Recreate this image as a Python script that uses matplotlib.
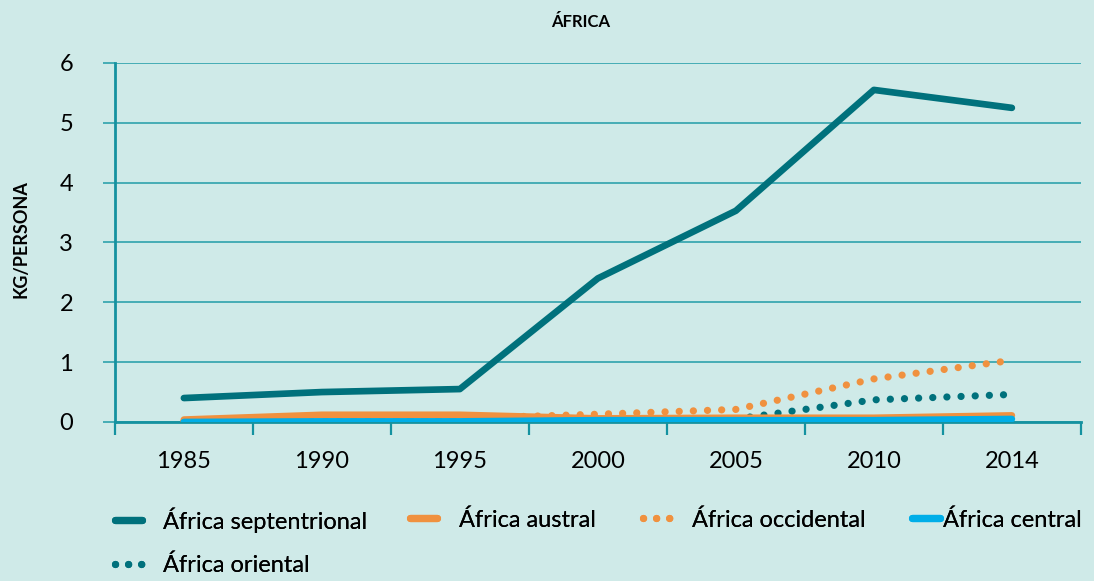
import matplotlib.pyplot as plt
from matplotlib.lines import Line2D

years = ["1985", "1990", "1995", "2000", "2005", "2010", "2014"]

septentrional = [0.40, 0.50, 0.55, 2.40, 3.53, 5.55, 5.25]
austral = [0.04, 0.12, 0.12, 0.06, 0.07, 0.07, 0.11]
occidental = [0.00, 0.02, 0.06, 0.13, 0.21, 0.72, 1.03]
central = [0.00, 0.01, 0.01, 0.03, 0.03, 0.03, 0.05]
oriental = [0.00, 0.00, 0.01, 0.02, 0.05, 0.37, 0.46]

labels = ["África septentrional", "África austral", "África occidental",
          "África central", "África oriental"]

bg = "#cfeae8"
grid_c = "#2fa3ad"
axis_c = "#1592a0"
teal = "#00717c"
orange = "#f0913f"
blue = "#00aee8"

plt.rcParams["font.family"] = ["Lato", "DejaVu Sans"]

fig = plt.figure(figsize=(10.94, 5.81), dpi=100, facecolor=bg)
ax = fig.add_axes([0.105, 0.2737, 0.883, 0.6179], facecolor=bg)

x = list(range(len(years)))
dot = (0, (0.01, 1.95))
dot_leg = (0, (0.01, 1.8))
lw = 4.8

ax.plot(x, oriental, color=teal, lw=5.2, ls=dot, dash_capstyle="round", zorder=3)
ax.plot(x, septentrional, color=teal, lw=lw, solid_capstyle="round", zorder=5)
ax.plot(x, occidental, color=orange, lw=5.2, ls=dot, dash_capstyle="round", zorder=3)
ax.plot(x, austral, color=orange, lw=lw, solid_capstyle="round", zorder=4)
ax.plot(x, central, color=blue, lw=lw, solid_capstyle="round", zorder=4)

ax.set_xlim(-0.5, len(years) - 0.5)
ax.set_ylim(0, 6)
ax.set_yticks(range(7))
ax.set_yticklabels([str(v) for v in range(7)], fontsize=17)
ax.yaxis.grid(True, color=grid_c, lw=1.2)
ax.set_axisbelow(True)

ax.set_xticks(x)
ax.set_xticklabels(years, fontsize=17)
ax.set_xticks([v - 0.5 for v in range(len(years) + 1)], minor=True)
ax.tick_params(axis="x", which="major", length=0, pad=21)
ax.tick_params(axis="x", which="minor", length=9, width=1.6, color=axis_c, direction="out")
ax.tick_params(axis="y", length=9, width=1.2, color=grid_c, pad=21)

for s in ["top", "right"]:
    ax.spines[s].set_visible(False)
ax.spines["left"].set_color(axis_c)
ax.spines["left"].set_linewidth(2)
ax.spines["bottom"].set_color(axis_c)
ax.spines["bottom"].set_linewidth(2)

fig.text(0.531, 0.962, "ÁFRICA", ha="center", va="center", fontsize=12, fontweight="bold")
fig.text(0.019, 0.589, "KG/PERSONA", ha="center", va="center", rotation=90,
         fontsize=13, fontweight="bold")

handles = [
    Line2D([], [], color=teal, lw=5.2, solid_capstyle="round"),
    Line2D([], [], color=orange, lw=5.2, solid_capstyle="round"),
    Line2D([], [], color=orange, lw=5.2, ls=dot_leg, dash_capstyle="round"),
    Line2D([], [], color=blue, lw=5.2, solid_capstyle="round"),
    Line2D([], [], color=teal, lw=5.2, ls=dot_leg, dash_capstyle="round"),
]
# legend entries placed individually, like the original
spots = [(0.105, 0.105, 0.9), (0.375, 0.105, 0.9), (0.588, 0.105, 0.9),
         (0.834, 0.105, 0.15), (0.105, 0.0275, 0.9)]
for h, lab, (lx, ly, pad) in zip(handles, labels, spots):
    leg = fig.legend([h], [lab], loc="center left", bbox_to_anchor=(lx, ly),
                     frameon=False, fontsize=17, handlelength=1.15,
                     handletextpad=pad, borderpad=0, borderaxespad=0)
    fig.add_artist(leg)

fig.savefig("out.png", dpi=100, facecolor=bg)
